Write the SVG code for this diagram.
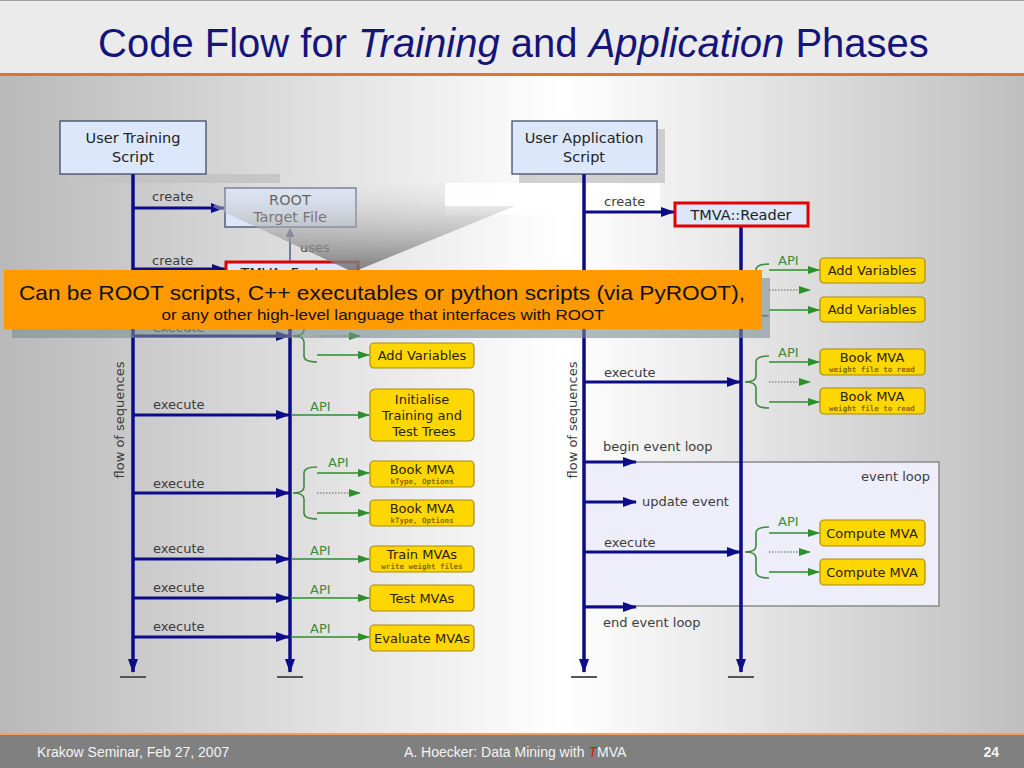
<svg xmlns="http://www.w3.org/2000/svg" width="1024" height="768" viewBox="0 0 1024 768">
<defs>
<linearGradient id="bg" x1="0" y1="0" x2="1" y2="0">
<stop offset="0" stop-color="#b9b9b9"/>
<stop offset="0.55" stop-color="#ffffff"/>
<stop offset="1" stop-color="#bfbfbf"/>
</linearGradient>
<linearGradient id="wedgeG" gradientUnits="userSpaceOnUse" x1="0" y1="183" x2="0" y2="272">
<stop offset="0" stop-color="#e4e4e4" stop-opacity="0.25"/>
<stop offset="0.45" stop-color="#b4b4b4" stop-opacity="0.6"/>
<stop offset="1" stop-color="#707070" stop-opacity="0.9"/>
</linearGradient>
<marker id="nav" viewBox="0 0 14 10" refX="13" refY="5" markerWidth="14" markerHeight="10" markerUnits="userSpaceOnUse" orient="auto">
<path d="M0,0 L14,5 L0,10 z" fill="#0c0c88"/>
</marker>
<marker id="grn" viewBox="0 0 12 8" refX="11" refY="4" markerWidth="12" markerHeight="8" markerUnits="userSpaceOnUse" orient="auto">
<path d="M0,0 L12,4 L0,8 z" fill="#2b8f2b"/>
</marker>
<marker id="usesM" viewBox="0 0 10 10" refX="9" refY="5" markerWidth="10" markerHeight="9" markerUnits="userSpaceOnUse" orient="auto">
<path d="M0,0 L10,5 L0,10 z" fill="#4a5a90"/>
</marker>
<style>
.lbl{font-family:"DejaVu Sans",sans-serif;font-size:13px;fill:#3c3c3c}
.api{font-family:"DejaVu Sans",sans-serif;font-size:13px;fill:#3a8c3a}
.blue{fill:#dce7fb;stroke:#34405e;stroke-width:1.2}
.red{fill:#dce7fb;stroke:#e00000;stroke-width:3}
.yel{fill:#ffd700;stroke:#a88a10;stroke-width:1.2}
.bt{font-family:"DejaVu Sans",sans-serif;font-size:13px;fill:#2a2200;text-anchor:middle}
.st{font-family:"DejaVu Sans Mono","Liberation Mono",monospace;font-size:7.5px;font-weight:bold;fill:#8a6a00;text-anchor:middle}
.hd{font-family:"DejaVu Sans",sans-serif;font-size:14.5px;fill:#222;text-anchor:middle}
.life{stroke:#0c0c88;stroke-width:3.5;fill:none}
.arr{stroke:#0c0c88;stroke-width:3;fill:none;marker-end:url(#nav)}
.garr{stroke:#2b8f2b;stroke-width:1.6;fill:none;marker-end:url(#grn)}
.dot{stroke:#8a8a8a;stroke-width:1.5;stroke-dasharray:1.5 1.5;fill:none;marker-end:url(#grn)}
.brace{stroke:#3f8a3f;stroke-width:1.6;fill:none}
.gnd{stroke:#555;stroke-width:2}
.foot{font-family:"Liberation Sans",Arial,sans-serif;font-size:14px;fill:#f4f4f4}
</style>
</defs>

<rect x="0" y="0" width="1024" height="768" fill="url(#bg)"/>
<g id="header">
<rect x="0" y="0" width="1024" height="74" fill="#ebebeb"/>
<line x1="0" y1="0.5" x2="1024" y2="0.5" stroke="#a0a0a0"/>
<rect x="0" y="73" width="1024" height="3" fill="#e8731f"/>
<text x="98" y="57" font-family="Liberation Sans, Arial, sans-serif" font-size="40" fill="#14147a">Code Flow for <tspan font-style="italic">Training</tspan> and <tspan font-style="italic">Application</tspan> Phases</text>
</g>

<g id="footer">
<rect x="0" y="733" width="1024" height="2" fill="#f0a060"/>
<rect x="0" y="735" width="1024" height="33" fill="#808080"/>
<text class="foot" x="37" y="757">Krakow Seminar, Feb 27, 2007</text>
<text class="foot" x="404" y="757">A. Hoecker: Data Mining with <tspan fill="#e01010" font-style="italic">T</tspan>MVA</text>
<text class="foot" x="999" y="757" text-anchor="end" font-weight="bold">24</text>
</g>

<rect x="68" y="174" width="212" height="9" fill="#c2c2c2" opacity="0.85"/>
<rect x="519" y="129" width="146" height="54" fill="#c6c6c6" opacity="0.8"/>
<rect x="445" y="183" width="215" height="32" fill="#ffffff" opacity="0.9"/>

<g id="eventloop">
<rect x="584" y="462" width="355" height="144" fill="#eeeefb" stroke="#8a8a8a" stroke-width="1.5"/>
<text class="lbl" x="930" y="481" text-anchor="end">event loop</text>
</g>

<g id="connectors">
<line class="life" x1="133" y1="174" x2="133" y2="672" marker-end="url(#nav)"/>
<line class="gnd" x1="120" y1="677" x2="146" y2="677"/>
<line class="life" x1="290" y1="290" x2="290" y2="672" marker-end="url(#nav)"/>
<line class="gnd" x1="277" y1="677" x2="303" y2="677"/>
<line class="life" x1="584" y1="174" x2="584" y2="672" marker-end="url(#nav)"/>
<line class="gnd" x1="571" y1="677" x2="597" y2="677"/>
<line class="life" x1="741" y1="226" x2="741" y2="672" marker-end="url(#nav)"/>
<line class="gnd" x1="728" y1="677" x2="754" y2="677"/>

<line class="arr" x1="133" y1="208" x2="224" y2="208"/>
<text class="lbl" x="152" y="201">create</text>
<line class="arr" x1="133" y1="269" x2="225" y2="269"/>
<text class="lbl" x="152" y="265">create</text>
<line x1="290" y1="262" x2="290" y2="229" stroke="#4a5a90" stroke-width="1.5" marker-end="url(#usesM)"/>
<text class="lbl" x="300" y="252" fill="#6a6a6a">uses</text>

<line class="arr" x1="133" y1="336" x2="289" y2="336"/>
<text class="lbl" x="153" y="332">execute</text>
<path class="brace" d="M317,310 Q304,310 304,316 L304,330 Q304,336 293,336 Q304,336 304,342 L304,356 Q304,362 317,362"/>
<line class="garr" x1="317" y1="316" x2="369" y2="316"/>
<line class="dot" x1="317" y1="336" x2="360" y2="336"/>
<line class="garr" x1="317" y1="355" x2="369" y2="355"/>

<line class="arr" x1="133" y1="415" x2="289" y2="415"/>
<text class="lbl" x="153" y="409">execute</text>
<text class="api" x="310" y="411">API</text>
<line class="garr" x1="291" y1="415" x2="369" y2="415"/>

<line class="arr" x1="133" y1="493" x2="289" y2="493"/>
<text class="lbl" x="153" y="488">execute</text>
<path class="brace" d="M317,467 Q304,467 304,473 L304,487 Q304,493 293,493 Q304,493 304,499 L304,513 Q304,519 317,519"/>
<text class="api" x="328" y="467">API</text>
<line class="garr" x1="317" y1="473" x2="369" y2="473"/>
<line class="dot" x1="317" y1="493" x2="360" y2="493"/>
<line class="garr" x1="317" y1="513" x2="369" y2="513"/>

<line class="arr" x1="133" y1="559" x2="289" y2="559"/>
<text class="lbl" x="153" y="553">execute</text>
<text class="api" x="310" y="555">API</text>
<line class="garr" x1="291" y1="559" x2="369" y2="559"/>

<line class="arr" x1="133" y1="598" x2="289" y2="598"/>
<text class="lbl" x="153" y="592">execute</text>
<text class="api" x="310" y="594">API</text>
<line class="garr" x1="291" y1="598" x2="369" y2="598"/>

<line class="arr" x1="133" y1="637" x2="289" y2="637"/>
<text class="lbl" x="153" y="631">execute</text>
<text class="api" x="310" y="633">API</text>
<line class="garr" x1="291" y1="637" x2="369" y2="637"/>

<text class="lbl" transform="translate(124,420) rotate(-90)" text-anchor="middle" fill="#444">flow of sequences</text>

<line class="arr" x1="584" y1="212" x2="674" y2="212"/>
<text class="lbl" x="604" y="206">create</text>

<line class="arr" x1="584" y1="290" x2="740" y2="290"/>
<path class="brace" d="M769,264 Q756,264 756,270 L756,284 Q756,290 745,290 Q756,290 756,296 L756,310 Q756,316 769,316"/>
<text class="api" x="778" y="265">API</text>
<line class="garr" x1="769" y1="270" x2="819" y2="270"/>
<line class="dot" x1="769" y1="290" x2="810" y2="290"/>
<line class="garr" x1="769" y1="310" x2="819" y2="310"/>

<line class="arr" x1="584" y1="382" x2="740" y2="382"/>
<text class="lbl" x="604" y="377">execute</text>
<path class="brace" d="M769,356 Q756,356 756,362 L756,376 Q756,382 745,382 Q756,382 756,388 L756,402 Q756,408 769,408"/>
<text class="api" x="778" y="357">API</text>
<line class="garr" x1="769" y1="362" x2="819" y2="362"/>
<line class="dot" x1="769" y1="382" x2="810" y2="382"/>
<line class="garr" x1="769" y1="402" x2="819" y2="402"/>

<text class="lbl" x="603" y="451">begin event loop</text>
<line class="arr" x1="584" y1="462" x2="636" y2="462"/>
<line class="arr" x1="584" y1="502" x2="636" y2="502"/>
<text class="lbl" x="642" y="506">update event</text>

<line class="arr" x1="584" y1="552" x2="740" y2="552"/>
<text class="lbl" x="604" y="547">execute</text>
<path class="brace" d="M769,527 Q756,527 756,533 L756,546 Q756,552 745,552 Q756,552 756,558 L756,572 Q756,578 769,578"/>
<text class="api" x="778" y="526">API</text>
<line class="garr" x1="769" y1="533" x2="819" y2="533"/>
<line class="dot" x1="769" y1="552" x2="810" y2="552"/>
<line class="garr" x1="769" y1="572" x2="819" y2="572"/>

<line class="arr" x1="584" y1="607" x2="636" y2="607"/>
<text class="lbl" x="603" y="627">end event loop</text>

<text class="lbl" transform="translate(577,420) rotate(-90)" text-anchor="middle" fill="#444">flow of sequences</text>
</g>

<g id="userTraining"><rect class="blue" x="60" y="121" width="146" height="53"/><text class="hd" x="133" y="143">User Training</text><text class="hd" x="133" y="162">Script</text></g>
<g id="rootFile"><rect class="blue" x="225" y="188" width="131" height="39"/><text class="hd" x="290" y="205">ROOT</text><text class="hd" x="290" y="222" fill="#666">Target File</text></g>
<g id="factory"><rect class="red" x="226" y="262" width="132" height="28"/><text class="hd" x="292" y="278">TMVA::Factory</text></g>
<g id="addVarL1"><rect class="yel" x="370" y="303" width="104" height="25" rx="4"/></g>
<g id="addVarL2"><rect class="yel" x="370" y="343" width="104" height="25" rx="4"/><text class="bt" x="422" y="360">Add Variables</text></g>
<g id="initTrees"><rect class="yel" x="370" y="389" width="104" height="52" rx="5"/><text class="bt" x="422" y="404">Initialise</text><text class="bt" x="422" y="420">Training and</text><text class="bt" x="424" y="436">Test Trees</text></g>
<g id="bookL1"><rect class="yel" x="370" y="461" width="104" height="26" rx="4"/><text class="bt" x="422" y="474">Book MVA</text><text class="st" x="422" y="484">kType, Options</text></g>
<g id="bookL2"><rect class="yel" x="370" y="500" width="104" height="26" rx="4"/><text class="bt" x="422" y="513">Book MVA</text><text class="st" x="422" y="523">kType, Options</text></g>
<g id="train"><rect class="yel" x="370" y="546" width="104" height="26" rx="4"/><text class="bt" x="422" y="559">Train MVAs</text><text class="st" x="422" y="569">write weight files</text></g>
<g id="test"><rect class="yel" x="370" y="585" width="104" height="26" rx="4"/><text class="bt" x="422" y="603">Test MVAs</text></g>
<g id="evaluate"><rect class="yel" x="370" y="625" width="104" height="26" rx="4"/><text class="bt" x="422" y="643">Evaluate MVAs</text></g>

<g id="userApp"><rect class="blue" x="512" y="121" width="145" height="53"/><text class="hd" x="584" y="143">User Application</text><text class="hd" x="584" y="162">Script</text></g>
<g id="reader"><rect class="red" x="675" y="203" width="133" height="23"/><text class="hd" x="741" y="220" font-size="15">TMVA::Reader</text></g>
<g id="addVarR1"><rect class="yel" x="820" y="258" width="105" height="25" rx="4"/><text class="bt" x="872" y="275">Add Variables</text></g>
<g id="addVarR2"><rect class="yel" x="820" y="297" width="105" height="25" rx="4"/><text class="bt" x="872" y="314">Add Variables</text></g>
<g id="bookR1"><rect class="yel" x="820" y="349" width="105" height="26" rx="4"/><text class="bt" x="872" y="362">Book MVA</text><text class="st" x="872" y="372">weight file to read</text></g>
<g id="bookR2"><rect class="yel" x="820" y="388" width="105" height="26" rx="4"/><text class="bt" x="872" y="401">Book MVA</text><text class="st" x="872" y="411">weight file to read</text></g>
<g id="computeR1"><rect class="yel" x="820" y="520" width="105" height="26" rx="4"/><text class="bt" x="872" y="538">Compute MVA</text></g>
<g id="computeR2"><rect class="yel" x="820" y="559" width="105" height="26" rx="4"/><text class="bt" x="872" y="577">Compute MVA</text></g>

<g id="callout">
<polygon points="228,183 445,183 445,206 515,206 353,272 213,207" fill="url(#wedgeG)"/>
<rect x="12" y="278" width="758" height="60" fill="#7f8a96" opacity="0.6"/>
<rect x="4" y="270" width="758" height="59" fill="#ff9900"/>
<text x="382" y="300" text-anchor="middle" font-family="Liberation Sans, Arial, sans-serif" font-size="21" fill="#111" textLength="726" lengthAdjust="spacingAndGlyphs">Can be ROOT scripts, C++ executables or python scripts (via PyROOT),</text>
<text x="383" y="320" text-anchor="middle" font-family="Liberation Sans, Arial, sans-serif" font-size="15" fill="#111" textLength="443" lengthAdjust="spacingAndGlyphs">or any other high-level language that interfaces with ROOT</text>
</g>
</svg>
